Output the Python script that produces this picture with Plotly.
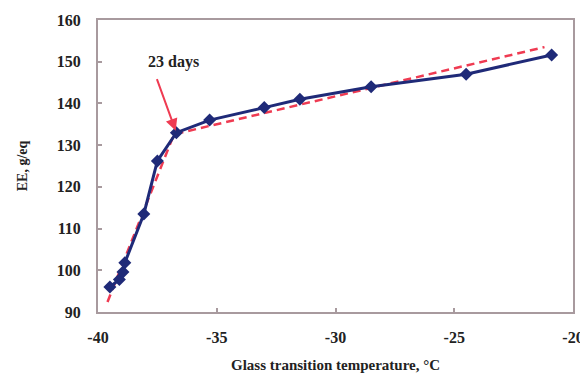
import plotly.graph_objects as go

# Measured data (glass transition temperature vs EE)
tg = [-39.5, -39.1, -38.95, -38.87, -38.07, -37.5, -36.7, -35.3, -33.0, -31.5, -28.5, -24.5, -20.9]
ee = [96.0, 97.8, 99.6, 101.8, 113.5, 126.2, 133.0, 136.0, 139.0, 141.0, 144.0, 147.0, 151.6]

# Dashed red fit (two linear segments)
fit_tg = [-39.6, -36.8, -21.2]
fit_ee = [92.4, 132.6, 153.5]

x_ticks = [-40, -35, -30, -25, -20]
y_ticks = [90, 100, 110, 120, 130, 140, 150, 160]

annot_text = "23 days"
annot_point = (-36.7, 133.0)

serif = "Liberation Serif, Times New Roman, serif"
navy = "#1f2a78"
red = "#ef3b52"
frame = "#a89a9e"

fig = go.Figure()
fig.add_trace(go.Scatter(
    x=fit_tg, y=fit_ee, mode="lines",
    line=dict(color=red, width=2.5, dash="8px,5px"),
    showlegend=False, hoverinfo="skip"))
fig.add_trace(go.Scatter(
    x=tg, y=ee, mode="lines+markers",
    line=dict(color=navy, width=3),
    marker=dict(symbol="diamond", size=10, color=navy),
    showlegend=False))

fig.add_annotation(x=annot_point[0], y=annot_point[1], text="",
                   showarrow=True, arrowhead=2, arrowsize=1.2, arrowwidth=2,
                   arrowcolor=red, ax=-20, ay=-55, standoff=2)
fig.add_annotation(x=annot_point[0], y=annot_point[1], text=f"<b>{annot_text}</b>",
                   showarrow=False, xshift=-3, yshift=71,
                   font=dict(family=serif, size=16, color="#222"))

fig.update_xaxes(range=[-40, -20], tickvals=x_ticks,
                 ticktext=[f"<b>{v}</b>" for v in x_ticks],
                 ticks="inside", ticklen=4, tickcolor=frame, tickwidth=1.5,
                 showline=True, linecolor=frame, linewidth=2, mirror=True,
                 showgrid=False, zeroline=False, ticklabelstandoff=10,
                 automargin=False,
                 tickfont=dict(family=serif, size=16, color="#222"),
                 title=dict(text="<b>Glass transition temperature, °C</b>",
                            font=dict(family=serif, size=15, color="#222"), standoff=14))
fig.update_yaxes(range=[90, 160], tickvals=y_ticks,
                 ticktext=[f"<b>{v}</b>" for v in y_ticks],
                 ticks="inside", ticklen=4, tickcolor=frame, tickwidth=1.5,
                 showline=True, linecolor=frame, linewidth=2, mirror=True,
                 showgrid=False, zeroline=False, ticklabelstandoff=12,
                 automargin=False,
                 tickfont=dict(family=serif, size=16, color="#222"),
                 title=dict(text="<b>EE, g/eq</b>",
                            font=dict(family=serif, size=14, color="#222"), standoff=26))
fig.update_layout(
    width=580, height=382,
    margin=dict(l=90, r=15, t=12, b=78),
    paper_bgcolor="white", plot_bgcolor="white",
    font=dict(family=serif))
fig.write_html("out.html")
